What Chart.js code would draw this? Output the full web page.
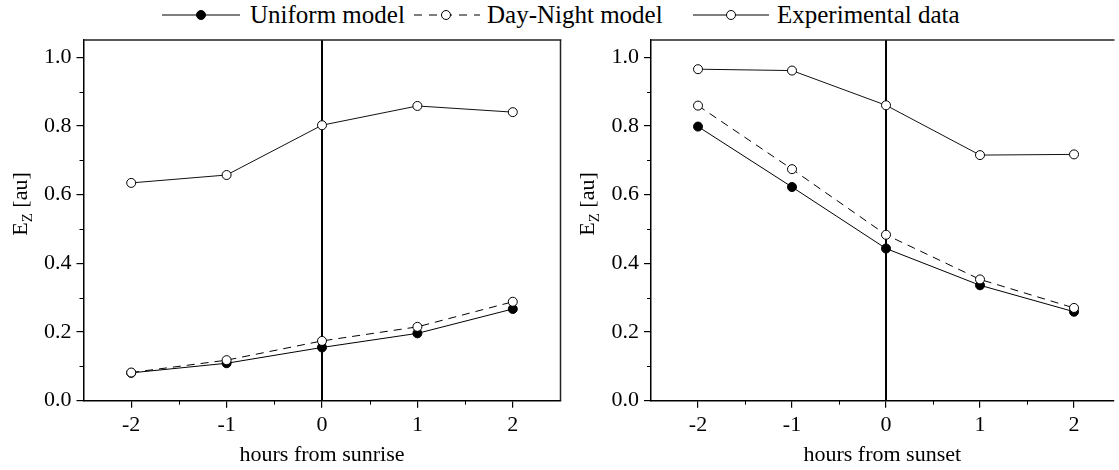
<!DOCTYPE html>
<html>
<head>
<meta charset="utf-8">
<script src="https://cdn.jsdelivr.net/npm/chart.js@4.4.1/dist/chart.umd.min.js"></script>
<style>
    body { margin: 0; background: #fff; }
    #wrap { position: relative; width: 1119px; height: 470px; overflow: hidden; font-family: "Liberation Serif", "Times New Roman", serif; }
    .lg { position: absolute; top: 0; height: 30px; line-height: 30px; font-size: 25px; color: #000; white-space: nowrap; }
    .ico { position: absolute; top: 5px; }
    #leftChart { position: absolute; left: 0; top: 0; }
    #rightChart { position: absolute; left: 566px; top: 0; }
</style>
</head>
<body>
<div id="wrap">
    <canvas class="ico" id="icoUniform" width="78" height="20" style="left:162px"></canvas>
    <span class="lg" style="left:250px">Uniform model</span>
    <canvas class="ico" id="icoDayNight" width="68" height="20" style="left:412px"></canvas>
    <span class="lg" style="left:487px">Day-Night model</span>
    <canvas class="ico" id="icoExp" width="76" height="20" style="left:693px"></canvas>
    <span class="lg" style="left:777px">Experimental data</span>
    <canvas id="leftChart" width="566" height="470"></canvas>
    <canvas id="rightChart" width="553" height="470"></canvas>
</div>
<script>
// data
const hours = [-2, -1, 0, 1, 2];
const sunriseUniform = [0.081, 0.109, 0.155, 0.196, 0.267];
const sunriseDayNight = [0.082, 0.118, 0.174, 0.215, 0.288];
const sunriseExperimental = [0.634, 0.657, 0.802, 0.858, 0.840];
const sunsetUniform = [0.798, 0.622, 0.443, 0.336, 0.259];
const sunsetDayNight = [0.859, 0.674, 0.483, 0.353, 0.270];
const sunsetExperimental = [0.965, 0.961, 0.860, 0.715, 0.717];
const yTicks = [0, 0.2, 0.4, 0.6, 0.8, 1.0];
const yMinorTicks = [0.1, 0.3, 0.5, 0.7, 0.9];
const xTicks = [-2, -1, 0, 1, 2];
const xMinorTicks = [-1.5, -0.5, 0.5, 1.5];

const FONT = "'Liberation Serif', serif";

function points(values) {
    return hours.map((h, i) => ({ x: h, y: values[i] }));
}

// legend icons
function drawIcon(id, dashed, filled) {
    const c = document.getElementById(id);
    const ctx = c.getContext('2d');
    const mid = c.height / 2;
    ctx.strokeStyle = '#000';
    ctx.lineWidth = 1.2;
    if (dashed) {
        ctx.setLineDash([8, 7]);
        ctx.lineDashOffset = -2;
    }
    ctx.beginPath();
    ctx.moveTo(0, mid);
    ctx.lineTo(c.width, mid);
    ctx.stroke();
    ctx.setLineDash([]);
    ctx.beginPath();
    ctx.arc(c.width / 2, mid, 4.5, 0, Math.PI * 2);
    ctx.fillStyle = filled ? '#000' : '#fff';
    ctx.fill();
    ctx.lineWidth = 1;
    ctx.stroke();
}

// frame, zero line, minor ticks and the E_Z title
const extrasPlugin = {
    id: 'extras',
    beforeDatasetsDraw(chart, args, opts) {
        const { ctx, chartArea: a, scales: { x } } = chart;
        const zx = x.getPixelForValue(0);
        ctx.save();
        ctx.strokeStyle = '#000';
        ctx.lineWidth = 2;
        ctx.beginPath();
        ctx.moveTo(zx, a.top);
        ctx.lineTo(zx, a.bottom);
        ctx.stroke();
        ctx.restore();
    },
    afterDraw(chart, args, opts) {
        const { ctx, chartArea: a, scales: { x, y } } = chart;
        ctx.save();
        ctx.strokeStyle = '#222';
        ctx.lineWidth = 1.5;
        ctx.beginPath();
        ctx.moveTo(a.left, a.top);
        ctx.lineTo(a.right + 1, a.top);
        if (opts.rightBorder) {
            ctx.moveTo(a.right, a.top);
            ctx.lineTo(a.right, a.bottom);
        }
        ctx.stroke();

        // minor ticks
        ctx.strokeStyle = '#000';
        ctx.lineWidth = 1;
        ctx.beginPath();
        yMinorTicks.forEach(v => {
            const py = Math.round(y.getPixelForValue(v)) + 0.5;
            ctx.moveTo(a.left - 4, py);
            ctx.lineTo(a.left, py);
        });
        xMinorTicks.forEach(v => {
            const px = Math.round(x.getPixelForValue(v)) + 0.5;
            ctx.moveTo(px, a.bottom);
            ctx.lineTo(px, a.bottom + 4);
        });
        ctx.stroke();

        // rotated y title with subscript
        const cy = 204;
        ctx.fillStyle = '#000';
        ctx.textBaseline = 'alphabetic';
        ctx.translate(opts.titleX, cy);
        ctx.rotate(-Math.PI / 2);
        const big = '22px ' + FONT;
        const small = '15px ' + FONT;
        ctx.font = big;
        const wE = ctx.measureText('E').width;
        const wRest = ctx.measureText(' [au]').width;
        ctx.font = small;
        const wZ = ctx.measureText('Z').width;
        let sx = -(wE + wZ + wRest) / 2;
        ctx.font = big;
        ctx.fillText('E', sx, 0);
        sx += wE;
        ctx.font = small;
        ctx.fillText('Z', sx, 5);
        sx += wZ;
        ctx.font = big;
        ctx.fillText(' [au]', sx, 0);
        ctx.restore();
    }
};

function makePanel(canvasId, title, uniform, dayNight, experimental, cfg) {
    const ctx = document.getElementById(canvasId).getContext('2d');
    new Chart(ctx, {
        type: 'line',
        data: {
            datasets: [{
                label: 'Uniform model',
                data: points(uniform),
                borderColor: '#000',
                borderWidth: 1,
                pointRadius: 4.5,
                pointBackgroundColor: '#000',
                pointBorderColor: '#000',
                pointBorderWidth: 1,
                order: 2
            }, {
                label: 'Day-Night model',
                data: points(dayNight),
                borderColor: '#000',
                borderWidth: 1,
                borderDash: [8, 6],
                pointRadius: 4.5,
                pointBackgroundColor: '#fff',
                pointBorderColor: '#000',
                pointBorderWidth: 1,
                order: 1
            }, {
                label: 'Experimental data',
                data: points(experimental),
                borderColor: '#111',
                borderWidth: 1,
                pointRadius: 4.5,
                pointBackgroundColor: '#fff',
                pointBorderColor: '#000',
                pointBorderWidth: 1,
                order: 0
            }]
        },
        options: {
            responsive: false,
            animation: false,
            layout: { padding: { top: 40, right: cfg.padRight, left: 0, bottom: 0 } },
            plugins: {
                legend: { display: false },
                tooltip: { enabled: false },
                extras: { titleX: cfg.titleX, rightBorder: cfg.rightBorder }
            },
            scales: {
                x: {
                    type: 'linear',
                    min: -2.5,
                    max: cfg.xMax,
                    afterBuildTicks: scale => { scale.ticks = xTicks.map(v => ({ value: v })); },
                    afterFit: scale => { scale.height = 69.3; },
                    grid: { drawOnChartArea: false, drawTicks: true, tickLength: 7, color: '#000', lineWidth: 1.2 },
                    border: { color: '#000', width: 1.5 },
                    ticks: {
                        padding: 4,
                        color: '#000',
                        font: { family: FONT, size: 22 },
                        callback: v => String(v).replace('\u2212', '-')
                    },
                    title: {
                        display: true,
                        text: title,
                        color: '#000',
                        font: { family: FONT, size: 22 },
                        padding: { top: 0, bottom: 2 }
                    }
                },
                y: {
                    min: 0,
                    max: 1.05,
                    afterBuildTicks: scale => { scale.ticks = yTicks.map(v => ({ value: v })); },
                    afterFit: scale => { scale.width = cfg.yWidth; },
                    grid: { drawOnChartArea: false, drawTicks: true, tickLength: 7, color: '#000', lineWidth: 1.2 },
                    border: { color: '#000', width: 1.5 },
                    ticks: {
                        padding: 5,
                        color: '#000',
                        font: { family: FONT, size: 22 },
                        callback: v => v.toFixed(1)
                    }
                }
            }
        },
        plugins: [extrasPlugin]
    });
}

function drawAll() {
    drawIcon('icoUniform', false, true);
    drawIcon('icoDayNight', true, false);
    drawIcon('icoExp', false, false);
    makePanel('leftChart', 'hours from sunrise', sunriseUniform, sunriseDayNight, sunriseExperimental,
        { xMax: 2.5, padRight: 5, yWidth: 83.5, titleX: 27, rightBorder: true });
    makePanel('rightChart', 'hours from sunset', sunsetUniform, sunsetDayNight, sunsetExperimental,
        { xMax: 2.42, padRight: 0, yWidth: 85, titleX: 27.5, rightBorder: false });
}

document.fonts.load("22px 'Liberation Serif'").then(drawAll, drawAll);
</script>
</body>
</html>
